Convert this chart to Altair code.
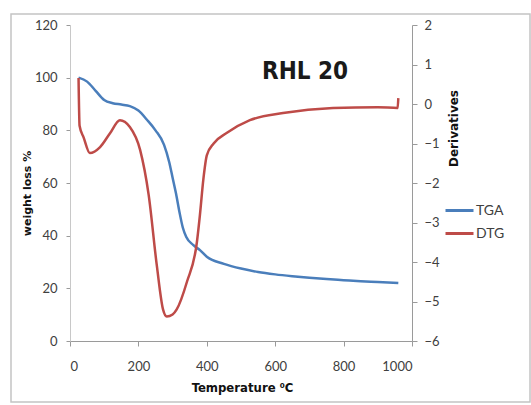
import altair as alt
import pandas as pd

# TGA curve: temperature (°C) vs remaining weight (%)
tga_temp = [25, 50, 75, 100, 125, 150, 175, 200, 225, 250, 275, 290, 300, 310,
            320, 330, 340, 360, 380, 400, 450, 500, 550, 600, 650, 700, 750,
            800, 850, 900, 960]
tga_weight = [100, 98.5, 95, 91.5, 90.3, 89.8, 89.2, 87.5, 84, 80, 74.5, 68,
              62, 56, 49, 43, 39.5, 36.5, 34.5, 32, 29.3, 27.5, 26.2, 25.3,
              24.6, 24, 23.5, 23.1, 22.7, 22.4, 22]

# DTG curve: temperature (°C) vs derivative
dtg_temp = [25, 28, 40, 58, 88, 117, 146, 175, 205, 230, 254, 272, 283, 300,
            312, 342, 371, 380, 390, 400, 420, 459, 526, 623, 769, 900, 958,
            960]
dtg_value = [0.66, -0.55, -0.85, -1.24, -1.09, -0.74, -0.41, -0.58, -1.16,
             -2.3, -4.1, -5.2, -5.38, -5.33, -5.2, -4.5, -3.5, -2.8, -1.9,
             -1.3, -1.0, -0.73, -0.41, -0.23, -0.1, -0.08, -0.1, 0.15]

series_names = ["TGA", "DTG"]
series_colors = ["#4a7ebb", "#be4b48"]

x_ticks = [0, 200, 400, 600, 800, 1000]
left_ticks = [0, 20, 40, 60, 80, 100, 120]
right_ticks = [-6, -5, -4, -3, -2, -1, 0, 1, 2]

tga = pd.DataFrame({"temp": tga_temp, "value": tga_weight, "series": "TGA"})
dtg = pd.DataFrame({"temp": dtg_temp, "value": dtg_value, "series": "DTG"})

LABEL_FONT = "Lato, sans-serif"
TITLE_FONT = "DejaVu Sans Condensed, DejaVu Sans, sans-serif"
AXIS_GREY = "#9a9a9a"
TEXT_GREY = "#404040"

color = alt.Color(
    "series:N",
    scale=alt.Scale(domain=series_names, range=series_colors),
    legend=alt.Legend(
        title=None, orient="none", legendX=374, legendY=170,
        symbolType="stroke", symbolSize=784, symbolStrokeWidth=3,
        labelFont=LABEL_FONT, labelFontSize=14, labelColor=TEXT_GREY,
        labelOffset=1, rowPadding=0,
    ),
)

x = alt.X(
    "temp:Q",
    scale=alt.Scale(domain=[0, 1000], nice=False),
    axis=alt.Axis(
        values=x_ticks, format="d", title="Temperature ⁰C", grid=False,
        domainColor=AXIS_GREY, tickColor=AXIS_GREY, tickSize=5,
        labelFont=LABEL_FONT, labelFontSize=13, labelColor=TEXT_GREY,
        labelPadding=14,
        titleFont=TITLE_FONT, titleFontSize=13, titleFontWeight="bold",
        titleColor="#111111", titleX=172, titleY=46, titleBaseline="middle",
    ),
)

tga_line = alt.Chart(tga).mark_line(strokeWidth=2.5, interpolate="monotone").encode(
    x=x,
    y=alt.Y(
        "value:Q",
        scale=alt.Scale(domain=[0, 120], nice=False),
        axis=alt.Axis(
            orient="left", values=left_ticks, title="weight loss %", grid=False,
            domainColor="#c8c8c8", tickColor=AXIS_GREY, tickSize=4,
            labelFont=LABEL_FONT, labelFontSize=13, labelColor=TEXT_GREY,
            labelPadding=9,
            titleFont="DejaVu Sans", titleFontSize=11, titleFontWeight="bold",
            titleColor="#111111", titleAngle=-90, titleX=-43, titleY=168,
            titleAlign="center", titleBaseline="middle",
        ),
    ),
    color=color,
)

dtg_line = alt.Chart(dtg).mark_line(strokeWidth=2.5, interpolate="monotone").encode(
    x=x,
    y=alt.Y(
        "value:Q",
        scale=alt.Scale(domain=[-6, 2], nice=False),
        axis=alt.Axis(
            orient="right", values=right_ticks, title="Derivatives", grid=False,
            domainColor=AXIS_GREY, tickColor=AXIS_GREY, tickSize=5,
            labelFont=LABEL_FONT, labelFontSize=13, labelColor=TEXT_GREY,
            labelPadding=7,
            titleFont="DejaVu Sans", titleFontSize=12, titleFontWeight="bold",
            titleColor="#111111", titleAngle=-90, titleX=41, titleY=103,
            titleAlign="center", titleBaseline="middle",
        ),
    ),
    color=color,
)

# sample label inside the plot
label = alt.Chart(pd.DataFrame({"label": ["RHL 20"]})).mark_text(
    font=TITLE_FONT, fontSize=24, fontWeight="bold", color="#1a1a1a",
    align="center", baseline="middle",
).encode(text="label:N", x=alt.value(235), y=alt.value(47))

# light frame around the whole figure
frame = alt.Chart(pd.DataFrame({"k": [0]})).mark_rect(
    fill="transparent", stroke="#c4c4c4", strokeWidth=1.5, clip=False,
).encode(x=alt.value(-59), x2=alt.value(460), y=alt.value(-11), y2=alt.value(377))

chart = (
    alt.layer(frame, tga_line, dtg_line, label)
    .resolve_scale(y="independent")
    .properties(
        width=342, height=316,
        autosize=alt.AutoSizeParams(type="none"),
        padding={"left": 70, "top": 25, "right": 119, "bottom": 64},
        background="white",
    )
    .configure_view(stroke=None)
)

chart.save("out.html", embed_options={"renderer": "svg", "actions": False})
